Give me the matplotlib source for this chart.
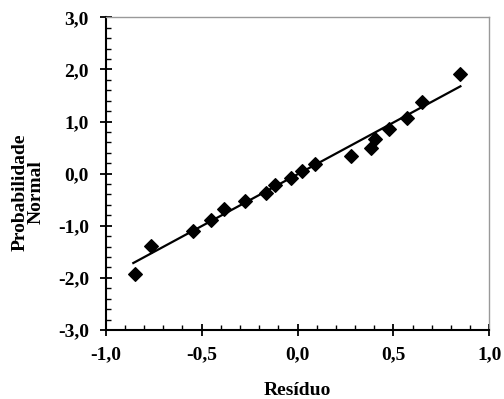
import numpy as np
import matplotlib
matplotlib.use('Agg')
import matplotlib.pyplot as plt
from matplotlib.ticker import MultipleLocator, FuncFormatter

# residuals (x) vs normal probability (y)
residuo = [-0.847, -0.764, -0.547, -0.453, -0.384, -0.274, -0.165, -0.116, -0.036,
           0.023, 0.090, 0.278, 0.385, 0.406, 0.476, 0.568, 0.649, 0.849]
prob_normal = [-1.93, -1.39, -1.10, -0.88, -0.685, -0.525, -0.37, -0.224, -0.083,
               0.051, 0.192, 0.345, 0.493, 0.665, 0.851, 1.075, 1.376, 1.907]

# fitted line endpoints
line_x = [-0.856, 0.849]
line_y = [-1.715, 1.676]

plt.rcParams['font.family'] = ['Liberation Serif', 'DejaVu Serif']
plt.rcParams['font.weight'] = 'bold'
plt.rcParams['axes.unicode_minus'] = False

fig = plt.figure(figsize=(5.04, 3.99), dpi=100)
ax = fig.add_axes([0.2097, 0.173, 0.7613, 0.7836])

ax.plot(line_x, line_y, c='black', lw=1.6, zorder=2)
ax.scatter(residuo, prob_normal, marker='D', s=48, c='black', zorder=3)

ax.set_xlim(-1.0, 1.0)
ax.set_ylim(-3.0, 3.0)
ax.xaxis.set_major_locator(MultipleLocator(0.5))
ax.xaxis.set_minor_locator(MultipleLocator(0.1))
ax.yaxis.set_major_locator(MultipleLocator(1.0))
ax.yaxis.set_minor_locator(MultipleLocator(0.2))

fmt = FuncFormatter(lambda v, p: ('%.1f' % v).replace('.', ',').replace('-0,0', '0,0'))
ax.xaxis.set_major_formatter(fmt)
ax.yaxis.set_major_formatter(fmt)

ax.tick_params(which='major', direction='inout', length=8, width=1.3, labelsize=14)
ax.tick_params(which='minor', direction='in', length=3.6, width=1.0)
ax.tick_params(axis='y', which='major', pad=8)
ax.tick_params(axis='x', which='major', pad=8)

for s in ['left', 'bottom']:
    ax.spines[s].set_linewidth(1.5)
for s in ['top', 'right']:
    ax.spines[s].set_linewidth(1.0)
    ax.spines[s].set_color('#999999')

ax.set_xlabel('Resíduo', fontsize=14, fontweight='bold', labelpad=13)
fig.text(28 / 504, 1 - 192 / 399, 'Probabilidade\nNormal', rotation=90,
         ha='center', va='center', multialignment='center',
         fontsize=14, fontweight='bold', linespacing=0.95)

fig.savefig('out.png', dpi=100)
